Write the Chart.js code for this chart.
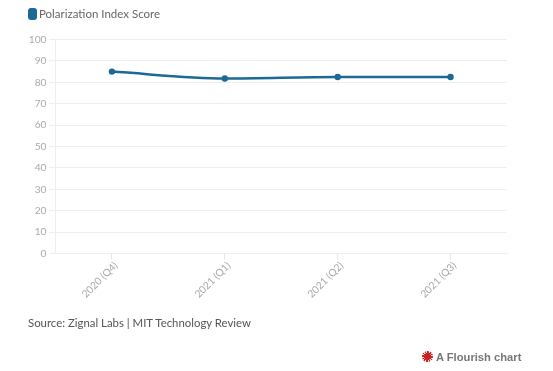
<!DOCTYPE html>
<html>
<head>
<meta charset="utf-8">
<script src="https://cdn.jsdelivr.net/npm/chart.js@4"></script>
<style>
html,body{margin:0;padding:0;background:#fff;width:553px;height:371px;overflow:hidden}
#c{position:absolute;left:0;top:0}
.t{position:absolute;white-space:nowrap;font-family:Lato,sans-serif}
#lg{left:39px;top:6px;font-size:11.5px;line-height:16px;color:#666}
#sw{position:absolute;left:28px;top:8px;width:9px;height:12px;border-radius:3px;background:#1d6996}
#src{left:28px;top:315px;font-size:11.4px;line-height:16px;color:#555}
#fl{left:436px;top:350px;font-family:"Liberation Sans",sans-serif;font-weight:bold;font-size:11.2px;line-height:14px;color:#777}
#ic{position:absolute;left:422px;top:351px;width:11px;height:11px;border-radius:50%;background:repeating-conic-gradient(#c4201f 0 15deg,rgba(196,32,31,.15) 15deg 30deg)}
#ic:after{content:"";position:absolute;left:2px;top:2px;width:7px;height:7px;border-radius:50%;background:#c4201f}
</style>
</head>
<body>
<canvas id="c" width="553" height="371"></canvas>
<div id="sw"></div><div class="t" id="lg">Polarization Index Score</div>
<div class="t" id="src">Source: Zignal Labs | MIT Technology Review</div>
<div id="ic"></div><div class="t" id="fl">A Flourish chart</div>
<script>
const categories = ["2020 (Q4)", "2021 (Q1)", "2021 (Q2)", "2021 (Q3)"];
const seriesName = "Polarization Index Score";
const polarization = [85, 81.8, 82.5, 82.5];
const lineColor = "#1d6996";
const tickFont = {family: "Lato, sans-serif", size: 10.2};
new Chart(document.getElementById("c"), {
  type: "line",
  data: {labels: categories, datasets: [{
    label: seriesName, data: polarization,
    borderColor: lineColor, backgroundColor: lineColor, borderWidth: 2.5,
    pointRadius: 3.2, pointBackgroundColor: lineColor, pointBorderWidth: 0,
    cubicInterpolationMode: "monotone", fill: false
  }]},
  options: {
    responsive: false, animation: false, devicePixelRatio: 1,
    layout: {padding: {left: 28.5, right: 46, top: 39.5, bottom: 57.5}},
    plugins: {legend: {display: false}, title: {display: false}, tooltip: {enabled: false}},
    scales: {
      x: {
        offset: true,
        afterFit(s){ s.height = 60; },
        grid: {display: true, drawOnChartArea: false, color: "#e6e6e6", tickLength: 6},
        border: {color: "#eeeeee"},
        ticks: {color: "#aaaaaa", font: tickFont, minRotation: 45, maxRotation: 45, padding: 0, labelOffset: 4, autoSkip: false}
      },
      y: {
        min: 0, max: 100,
        afterFit(s){ s.width = 27; },
        grid: {color: "#eeeeee", tickLength: 6},
        border: {color: "#eeeeee"},
        ticks: {color: "#aaaaaa", font: tickFont, stepSize: 10, padding: 3}
      }
    }
  }
});
</script>
</body>
</html>
